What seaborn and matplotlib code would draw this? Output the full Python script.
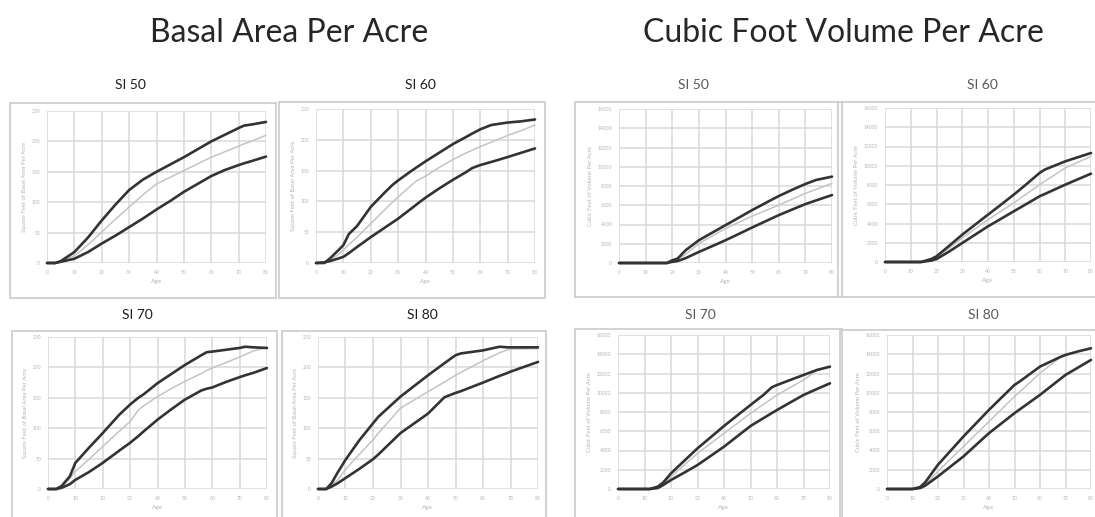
import matplotlib
matplotlib.use("Agg")
import matplotlib.pyplot as plt
from matplotlib.patches import Rectangle
import seaborn as sns
import pandas as pd

# ---------------- data ----------------
# Basal area per acre (sq ft)
BA50_AGE = [0, 3, 5, 10, 15, 20, 25, 30, 35, 40, 45, 50, 55, 60, 65, 70, 72, 75, 80]
BA50_HIGH = [0, 0, 3, 18, 42, 70, 96, 120, 137, 150, 162, 174, 187, 200, 211, 222, 226, 228, 232]
BA50_MID = [0, 0, 2, 12, 30, 51, 72, 92, 112, 130, 141, 152, 163, 174, 183, 192, 196, 201, 210]
BA50_LOW = [0, 0, 2, 7, 18, 32, 45, 59, 73, 88, 102, 117, 130, 143, 153, 161, 164, 168, 175]

BA60_AGE = [0, 3, 5, 8, 10, 12, 15, 20, 25, 28, 30, 35, 37, 40, 45, 50, 55, 57, 60, 64, 70, 75, 80]
BA60_HIGH = [0, 0, 7, 20, 29, 47, 60, 91, 114, 127, 134, 150, 156, 165, 179, 193, 205, 210, 217, 224, 228, 230, 233]
BA60_MID = [0, 1, 4, 13, 21, 30, 42, 64, 86, 99, 107, 127, 134, 141, 155, 168, 179, 183, 189, 196, 207, 215, 224]
BA60_LOW = [0, 1, 3, 7, 10, 16, 26, 42, 57, 66, 72, 89, 96, 106, 121, 135, 148, 154, 159, 164, 172, 179, 186]

BA70_AGE = [0, 3, 5, 8, 10, 15, 20, 26, 30, 33, 35, 40, 45, 50, 56, 58, 60, 65, 70, 72, 75, 80]
BA70_HIGH = [0, 0, 5, 21, 43, 68, 92, 122, 139, 150, 156, 174, 189, 204, 220, 225, 226, 229, 232, 234, 233, 232]
BA70_MID = [0, 0, 4, 17, 29, 49, 70, 95, 111, 130, 137, 152, 165, 177, 190, 195, 199, 208, 217, 221, 227, 233]
BA70_LOW = [0, 0, 2, 8, 15, 28, 43, 63, 76, 87, 95, 114, 131, 147, 162, 165, 167, 176, 184, 187, 191, 199]

BA80_AGE = [0, 3, 5, 7, 10, 15, 20, 22, 30, 40, 46, 50, 52, 60, 66, 69, 70, 80]
BA80_HIGH = [0, 0, 10, 26, 48, 80, 108, 119, 152, 187, 207, 220, 223, 228, 234, 233, 233, 233]
BA80_MID = [0, 0, 6, 14, 32, 57, 81, 92, 133, 160, 176, 187, 192, 211, 224, 229, 230, 231]
BA80_LOW = [0, 0, 4, 9, 18, 33, 49, 57, 92, 124, 151, 158, 161, 175, 186, 191, 193, 209]

# Cubic foot volume per acre
CF50_AGE = [0, 10, 18, 20, 22, 25, 30, 35, 40, 45, 50, 55, 60, 65, 70, 74, 80]
CF50_HIGH = [0, 0, 0, 278, 452, 1320, 2365, 3150, 3930, 4710, 5495, 6230, 6956, 7600, 8208, 8626, 8973]
CF50_MID = [0, 0, 0, 200, 380, 900, 2017, 2800, 3582, 4230, 4869, 5440, 6017, 6620, 7234, 7650, 8278]
CF50_LOW = [0, 0, 0, 120, 200, 500, 1148, 1750, 2365, 3020, 3687, 4330, 4973, 5550, 6121, 6500, 7060]

CF60_AGE = [0, 10, 14, 18, 20, 25, 30, 35, 40, 45, 50, 55, 60, 62, 70, 80]
CF60_HIGH = [0, 0, 0, 312, 590, 1700, 2840, 3880, 4918, 5950, 6995, 8100, 9246, 9593, 10458, 11324]
CF60_MID = [0, 0, 0, 250, 500, 1450, 2493, 3450, 4398, 5260, 6130, 7080, 8034, 8380, 9766, 10978]
CF60_LOW = [0, 0, 0, 150, 312, 1100, 1974, 2840, 3705, 4480, 5264, 6040, 6822, 7060, 8034, 9177]

CF70_AGE = [0, 10, 12, 15, 17, 20, 25, 30, 35, 40, 45, 50, 55, 58, 60, 65, 70, 75, 80]
CF70_HIGH = [0, 0, 0, 242, 658, 1628, 2930, 4225, 5380, 6545, 7640, 8727, 9800, 10562, 10805, 11330, 11843, 12363, 12709]
CF70_MID = [0, 0, 0, 200, 500, 1281, 2490, 3705, 4740, 5783, 6820, 7861, 8810, 9380, 9766, 10550, 11324, 12294, 12709]
CF70_LOW = [0, 0, 0, 100, 400, 935, 1700, 2493, 3440, 4398, 5470, 6545, 7380, 7880, 8207, 8990, 9766, 10380, 10978]

CF80_AGE = [0, 10, 13, 15, 20, 25, 30, 35, 40, 45, 50, 52, 60, 68, 70, 75, 80]
CF80_HIGH = [0, 0, 207, 700, 2523, 3990, 5460, 6840, 8225, 9520, 10817, 11163, 12718, 13720, 13928, 14300, 14619]
CF80_MID = [0, 0, 100, 450, 1832, 3130, 4424, 5720, 7016, 8310, 9608, 10090, 12027, 13686, 13928, 14300, 14619]
CF80_LOW = [0, 0, 100, 350, 1313, 2350, 3387, 4600, 5806, 6840, 7880, 8260, 9780, 11440, 11854, 12630, 13409]

MAIN_TITLES = ["Basal Area Per Acre", "Cubic Foot Volume Per Acre"]
PANEL_TITLES = ["SI 50", "SI 60", "SI 70", "SI 80"]
BA_YTICKS = [0, 50, 100, 150, 200, 250]
CF_YTICKS = [0, 2000, 4000, 6000, 8000, 10000, 12000, 14000, 16000]
XTICKS = [0, 10, 20, 30, 40, 50, 60, 70, 80]
BA_YLABEL = "Square Feet of Basal Area Per Acre"
CF_YLABEL = "Cubic Feet of Volume Per Acre"
XLABEL = "Age"

# ---------------- figure ----------------
sns.set_style("white")
plt.rcParams["font.family"] = ["Lato", "DejaVu Sans"]

W, H = 1095, 517
fig = plt.figure(figsize=(W / 100, H / 100), dpi=100)
fig.patch.set_facecolor("white")

DARK = "#333333"
GREY = "#c4c4c4"
GRID = "#d9d9d9"
TICKC = "#b5b5b5"


def add_box(x0, x1, y0, y1):
    fig.add_artist(Rectangle((x0 / W, 1 - y1 / H), (x1 - x0) / W, (y1 - y0) / H,
                             transform=fig.transFigure, fill=False,
                             ec="#cfcfcf", lw=1.3))


def panel(x0, x1, ytop, ybot, ages, hi, mid, lo, yticks, ylabel, title, tx, ty, tcolor):
    ax = fig.add_axes([x0 / W, 1 - ybot / H, (x1 - x0) / W, (ybot - ytop) / H])
    df = pd.DataFrame({"age": ages, "hi": hi, "mid": mid, "lo": lo})
    sns.lineplot(data=df, x="age", y="mid", ax=ax, color=GREY, lw=1.1)
    sns.lineplot(data=df, x="age", y="hi", ax=ax, color=DARK, lw=1.9)
    sns.lineplot(data=df, x="age", y="lo", ax=ax, color=DARK, lw=1.9)
    ax.set_xlim(0, 80)
    ax.set_ylim(0, yticks[-1])
    ax.set_xticks(XTICKS)
    ax.set_yticks(yticks)
    ax.grid(True, color=GRID, lw=1.1)
    ax.set_axisbelow(True)
    for s in ax.spines.values():
        s.set_visible(False)
    ax.tick_params(length=0, labelsize=3.6, labelcolor=TICKC, pad=5)
    ax.set_xlabel(XLABEL, fontsize=4.6, color=TICKC, labelpad=3)
    ax.set_ylabel(ylabel, fontsize=4.2, color=TICKC, labelpad=3)
    for ln in ax.lines:
        ln.set_clip_on(False)
    fig.text(tx / W, 1 - ty / H, title, ha="center", va="center",
             fontsize=10, color=tcolor)
    return ax


# boxes
add_box(10, 276, 103, 298)
add_box(279, 545, 102, 298)
add_box(12, 277, 331, 540)
add_box(282, 546, 331, 540)
add_box(575, 842, 102, 297)
add_box(838, 1120, 102, 297)
add_box(575, 842, 329, 540)
add_box(840, 1120, 330, 540)

# basal area panels
panel(47, 266, 111, 263, BA50_AGE, BA50_HIGH, BA50_MID, BA50_LOW, BA_YTICKS, BA_YLABEL, PANEL_TITLES[0], 130, 85, "#1e1e1e")
panel(316, 535, 109, 263, BA60_AGE, BA60_HIGH, BA60_MID, BA60_LOW, BA_YTICKS, BA_YLABEL, PANEL_TITLES[1], 420, 85, "#1e1e1e")
panel(48, 267, 337, 489, BA70_AGE, BA70_HIGH, BA70_MID, BA70_LOW, BA_YTICKS, BA_YLABEL, PANEL_TITLES[2], 137, 315, "#1e1e1e")
panel(318, 538, 337, 489, BA80_AGE, BA80_HIGH, BA80_MID, BA80_LOW, BA_YTICKS, BA_YLABEL, PANEL_TITLES[3], 422, 315, "#1e1e1e")

# cubic volume panels
panel(619, 832, 109, 263, CF50_AGE, CF50_HIGH, CF50_MID, CF50_LOW, CF_YTICKS, CF_YLABEL, PANEL_TITLES[0], 693, 85, "#595959")
panel(885, 1091, 108, 262, CF60_AGE, CF60_HIGH, CF60_MID, CF60_LOW, CF_YTICKS, CF_YLABEL, PANEL_TITLES[1], 982, 85, "#595959")
panel(618, 830, 335, 489, CF70_AGE, CF70_HIGH, CF70_MID, CF70_LOW, CF_YTICKS, CF_YLABEL, PANEL_TITLES[2], 700, 315, "#595959")
panel(887, 1091, 335, 489, CF80_AGE, CF80_HIGH, CF80_MID, CF80_LOW, CF_YTICKS, CF_YLABEL, PANEL_TITLES[3], 983, 315, "#595959")

# main titles
fig.text(289 / W, 1 - 33 / H, MAIN_TITLES[0], ha="center", va="center", fontsize=23,
         color="#262626")
fig.text(843 / W, 1 - 33 / H, MAIN_TITLES[1], ha="center", va="center", fontsize=23,
         color="#262626")

fig.savefig("out.png", dpi=100, facecolor="white")
